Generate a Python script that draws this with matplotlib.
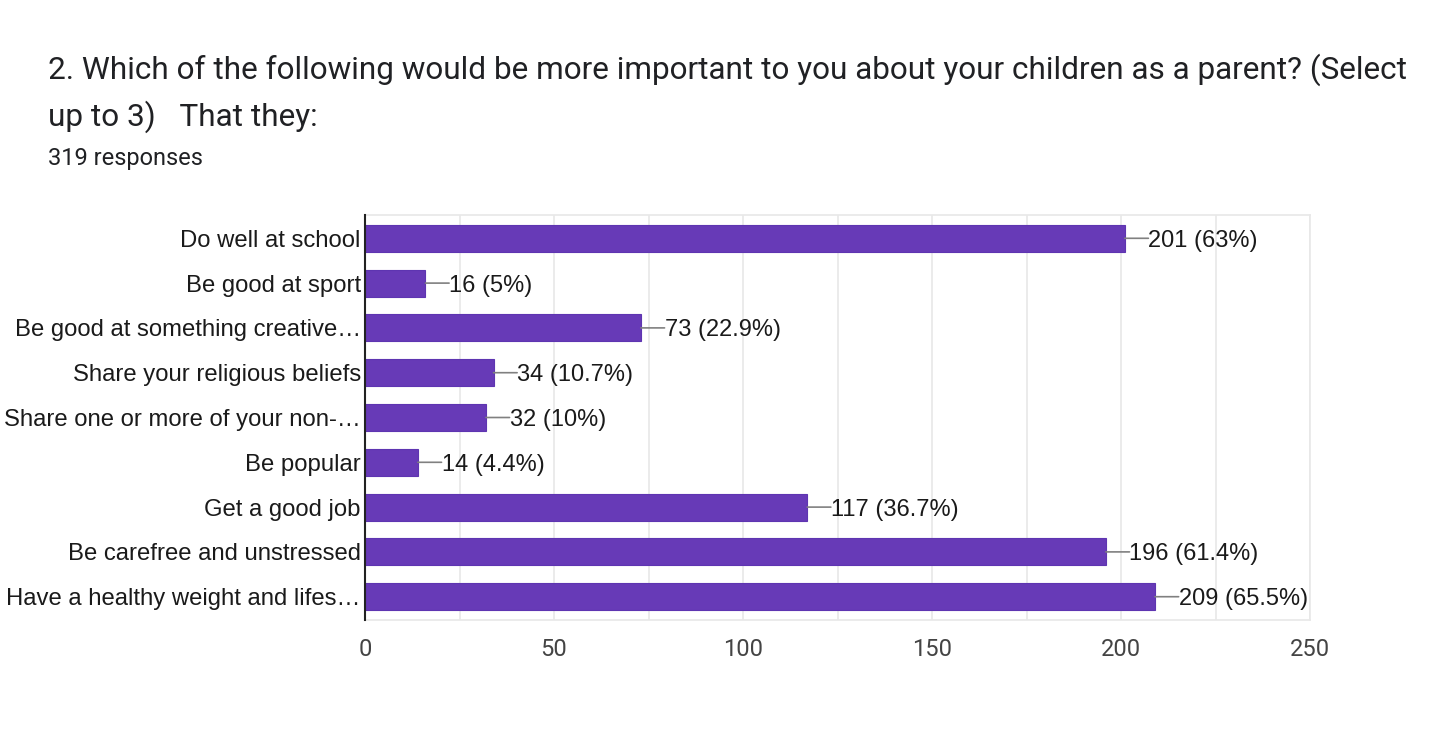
import matplotlib.pyplot as plt

categories = ["Do well at school", "Be good at sport", "Be good at something creative\u2026",
              "Share your religious beliefs", "Share one or more of your non-\u2026",
              "Be popular", "Get a good job", "Be carefree and unstressed",
              "Have a healthy weight and lifes\u2026"]
counts = [201, 16, 73, 34, 32, 14, 117, 196, 209]
percents = ["63%", "5%", "22.9%", "10.7%", "10%", "4.4%", "36.7%", "61.4%", "65.5%"]
total = 319
xticks = [0, 50, 100, 150, 200, 250]

fig = plt.figure(figsize=(14.56, 7.4), dpi=100)
ax = fig.add_axes([365/1456, 1-620/740, 945/1456, 405/740])

ypos = list(range(len(categories)))
ax.barh(ypos, counts, height=0.6, color="#673ab7", edgecolor="#5e35b1", linewidth=0.8, zorder=3)

off = 17  # points, ~24 px
for y, c, p in zip(ypos, counts, percents):
    ax.annotate("", xy=(c, y), xytext=(off, 0), textcoords="offset points",
                arrowprops=dict(arrowstyle="-", color="#808080", lw=1.2, shrinkA=0, shrinkB=0))
    ax.annotate("%d (%s)" % (c, p), xy=(c, y), xytext=(off, 0), textcoords="offset points",
                va="center_baseline", ha="left", fontsize=17, family="Liberation Sans",
                color="#1a1a1a")

ax.set_xlim(0, 250)
ax.set_ylim(len(categories) - 0.48, -0.52)
ax.set_xticks(xticks)
ax.set_xticks(range(25, 250, 50), minor=True)
ax.grid(axis="x", which="both", color="#e8e8e8", lw=1.2, zorder=0)
ax.set_yticks(ypos)
ax.set_yticklabels(categories, fontsize=17.2, family="Liberation Sans", color="#1a1a1a",
                   va="center_baseline")
ax.tick_params(axis="y", length=0, pad=3)
ax.tick_params(axis="x", which="both", length=0, pad=13, labelsize=17, labelcolor="#444444")
for lab in ax.get_xticklabels():
    lab.set_family("Roboto")
for s in ["top", "right", "bottom"]:
    ax.spines[s].set_color("#e8e8e8")
    ax.spines[s].set_linewidth(1.2)
ax.spines["left"].set_color("#222222")
ax.spines["left"].set_linewidth(1.5)
ax.spines["left"].set_zorder(4)

fig.text(48/1456, 1-70/740, "2. Which of the following would be more important to you about your children as a parent? (Select",
         fontsize=22.7, family="Roboto", color="#202124", va="center")
fig.text(48/1456, 1-117/740, "up to 3)   That they:",
         fontsize=22.7, family="Roboto", color="#202124", va="center")
fig.text(48/1456, 1-158/740, "%d responses" % total,
         fontsize=17, family="Roboto", color="#202124", va="center")

fig.savefig("out.png", dpi=100, facecolor="white")
